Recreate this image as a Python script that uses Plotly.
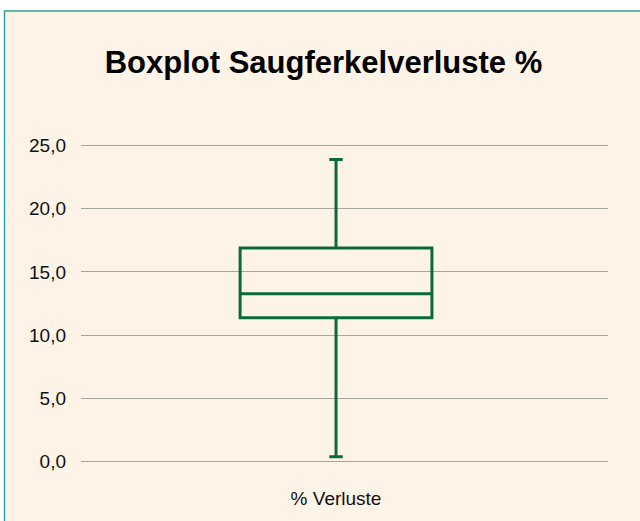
import plotly.graph_objects as go

categories = ["% Verluste"]
q1_vals = [11.37]
median_vals = [13.27]
q3_vals = [16.9]
lower_vals = [0.38]
upper_vals = [23.9]
y_ticks = [0, 5, 10, 15, 20, 25]
y_tick_labels = ["0,0", "5,0", "10,0", "15,0", "20,0", "25,0"]

W, H = 640, 521
ppu = (461.8 - 145.3) / 25.0
pad_u = 0.2
L, R = 81, 608
T, B = 145.3 - pad_u * ppu, 461.8 + pad_u * ppu

fig = go.Figure()
fig.add_trace(go.Box(
    x=categories,
    q1=q1_vals, median=median_vals, q3=q3_vals,
    lowerfence=lower_vals, upperfence=upper_vals,
    width=0.364, whiskerwidth=0.07,
    fillcolor="rgba(0,0,0,0)",
    line=dict(color="#0B6B38", width=3),
    boxpoints=False, hoverinfo="skip",
))

pw, ph = R - L, B - T
def px2x(p): return (p - L) / pw
def px2y(p): return (B - p) / ph

fig.add_shape(type="rect", xref="paper", yref="paper",
              x0=px2x(4.5), x1=px2x(700), y0=px2y(600), y1=px2y(10.5),
              fillcolor="#FDF4E7", line=dict(color="#2BA396", width=1.5),
              layer="below")

fig.update_layout(
    width=W, height=H,
    margin=dict(l=L, r=W - R, t=T, b=H - B, pad=0),
    paper_bgcolor="white", plot_bgcolor="rgba(0,0,0,0)",
    showlegend=False,
    title=dict(text="<b>Boxplot Saugferkelverluste %</b>",
               font=dict(family="Liberation Sans, Arial", size=31, color="#000000"),
               x=(104 + 543) / 2 / W, xanchor="center",
               y=1 - 62 / H, yanchor="middle"),
    font=dict(family="Liberation Sans, Arial", color="#111111"),
)
fig.update_xaxes(
    type="category", range=[-0.4839, 0.5161],
    showgrid=False, zeroline=False, showline=False, ticks="",
    tickfont=dict(size=19, color="#111111"), ticklabelstandoff=21,
)
fig.update_yaxes(
    range=[-pad_u, 25 + pad_u], tickvals=y_ticks, ticktext=y_tick_labels,
    showgrid=True, gridcolor="#A9A5A0", gridwidth=1.3,
    zeroline=False, showline=False, ticks="",
    tickfont=dict(size=19, color="#111111"), ticklabelstandoff=14,
)

fig.write_html(
    "out.html",
    config={"displayModeBar": False},
    post_script="document.body.style.margin='0';document.body.style.overflow='hidden';",
)
